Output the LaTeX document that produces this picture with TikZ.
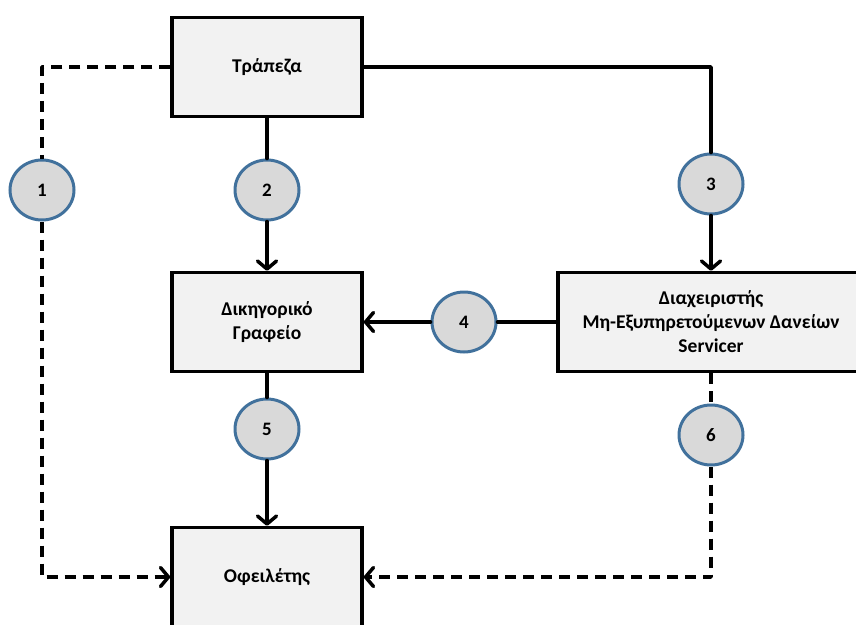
\documentclass[tikz,border=0pt]{standalone}
\usepackage{fontspec}
\setmainfont{Carlito}
\usetikzlibrary{arrows.meta,shapes.geometric}
\definecolor{boxfill}{HTML}{F2F2F2}
\definecolor{circfill}{HTML}{D9D9D9}
\definecolor{circline}{HTML}{41719C}
\tikzset{
  entity/.style={draw=black, line width=3.5pt, fill=boxfill, minimum width=190pt, minimum height=99pt,
    align=center, font=\fontsize{19.5}{24}\selectfont\bfseries, inner sep=0pt},
  stepnum/.style={ellipse, draw=circline, line width=3pt, fill=circfill, minimum width=64pt, minimum height=60pt,
    inner sep=0pt, font=\fontsize{19}{20}\selectfont\bfseries},
  conn/.style={line width=3.5pt, line cap=round, line join=round},
  tip/.style={-{Straight Barb[length=8pt,width=19pt,line cap=round,line join=round]}},
  dashconn/.style={conn, line cap=butt, dash pattern=on 11pt off 7pt},
}
\begin{document}
\begin{tikzpicture}[x=1pt,y=-1pt]
\useasboundingbox (0,0) rectangle (856,624);
\clip (0,0) rectangle (856,624);
\node[entity] (trap) at (267,67) {Τράπεζα};
\node[entity] (dik) at (267,322) {Δικηγορικό\\Γραφείο};
\node[entity, minimum width=306pt] (serv) at (711,322) {Διαχειριστής\\Μη-Εξυπηρετούμενων Δανείων\\Servicer};
\node[entity] (ofe) at (267,577) {Οφειλέτης};
\node[stepnum] (c1) at (42,190) {1};
\node[stepnum] (c2) at (267,190) {2};
\node[stepnum] (c3) at (711,184) {3};
\node[stepnum] (c4) at (464,322) {4};
\node[stepnum] (c5) at (267,429) {5};
\node[stepnum] (c6) at (711,435) {6};
% 1
\draw[dashconn] (trap.west) -| (c1.north);
\draw[dashconn, tip] (c1.south) |- (ofe.west);
% 2
\draw[conn] (trap.south) -- (c2.north);
\draw[conn, tip] (c2.south) -- (dik.north);
% 3
\draw[conn] (trap.east) -| (c3.north);
\draw[conn, tip] (c3.south) -- (c3.south |- serv.north);
% 4
\draw[conn] (serv.west) -- (c4.east);
\draw[conn, tip] (c4.west) -- (dik.east);
% 5
\draw[conn] (dik.south) -- (c5.north);
\draw[conn, tip] (c5.south) -- (ofe.north);
% 6
\draw[dashconn] (serv.south -| c6) -- (c6.north);
\draw[dashconn, tip] (c6.south) |- (ofe.east);
\end{tikzpicture}
\end{document}
